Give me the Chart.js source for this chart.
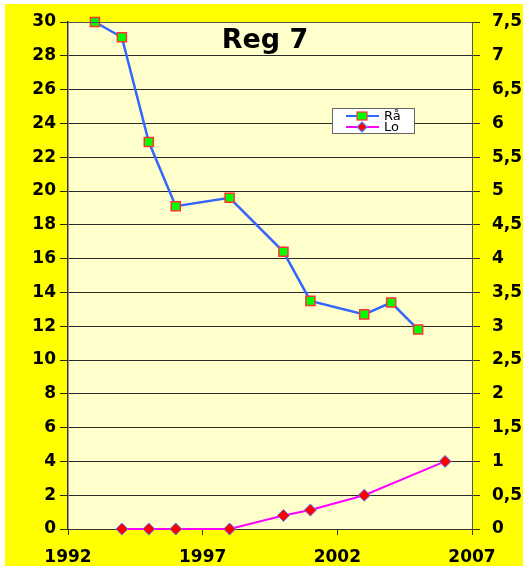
<!DOCTYPE html>
<html>
<head>
<meta charset="utf-8">
<script src="https://cdn.jsdelivr.net/npm/chart.js@4/dist/chart.umd.min.js"></script>
<style>
  html, body { margin: 0; padding: 0; background: #ffffff; }
  #wrap { position: absolute; left: 5px; top: 4px; width: 518px; height: 562px; background: #ffff00; }
  canvas { display: block; }
</style>
</head>
<body>
<div id="wrap"><canvas id="c" width="518" height="562"></canvas></div>
<script>
const chartTitle = 'Reg 7';
const raYears = [1993, 1994, 1995, 1996, 1998, 2000, 2001, 2003, 2004, 2005];
const raValues = [30, 29.1, 22.9, 19.1, 19.6, 16.4, 13.5, 12.7, 13.4, 11.8];
const loYears = [1994, 1995, 1996, 1998, 2000, 2001, 2003, 2006];
const loValues = [0, 0, 0, 0, 0.2, 0.28, 0.5, 1.0];
const seriesNames = ['Rå', 'Lo'];
const xTicks = [1992, 1997, 2002, 2007];

const FONT = '"DejaVu Sans", sans-serif';

const bgPlugin = {
  id: 'plotBg',
  beforeDraw(chart) {
    const { ctx, chartArea: a } = chart;
    ctx.save();
    ctx.fillStyle = '#ffffcc';
    ctx.fillRect(a.left, a.top, a.right - a.left, a.bottom - a.top);
    ctx.restore();
  }
};

const overlayPlugin = {
  id: 'overlay',
  afterDraw(chart) {
    const { ctx, chartArea: a } = chart;
    ctx.save();
    ctx.strokeStyle = '#555555';
    ctx.lineWidth = 1;
    ctx.beginPath();
    ctx.moveTo(a.left, a.top + 0.5); ctx.lineTo(a.right, a.top + 0.5);
    ctx.stroke();
    // title
    ctx.fillStyle = '#000000';
    ctx.font = 'bold 27px ' + FONT;
    ctx.textAlign = 'center';
    ctx.textBaseline = 'middle';
    ctx.fillText(chartTitle, 260, 37);
    // legend
    const bx = 327, by = 104, bw = 82, bh = 25;
    ctx.fillStyle = '#ffffff';
    ctx.fillRect(bx, by, bw, bh);
    ctx.strokeStyle = '#666666';
    ctx.strokeRect(bx + 0.5, by + 0.5, bw, bh);
    const rows = [by + 8, by + 19];
    chart.data.datasets.forEach((ds, i) => {
      const y = rows[i];
      ctx.strokeStyle = ds.borderColor;
      ctx.lineWidth = 2;
      ctx.beginPath();
      ctx.moveTo(bx + 14, y); ctx.lineTo(bx + 47, y);
      ctx.stroke();
      ctx.fillStyle = ds.pointBackgroundColor;
      ctx.strokeStyle = ds.pointBorderColor;
      ctx.lineWidth = 1.2;
      const cx = bx + 30;
      if (i === 0) {
        ctx.fillRect(cx - 5, y - 4, 10, 8);
        ctx.strokeRect(cx - 5, y - 4, 10, 8);
      } else {
        ctx.beginPath();
        ctx.moveTo(cx, y - 5); ctx.lineTo(cx + 5, y); ctx.lineTo(cx, y + 5); ctx.lineTo(cx - 5, y);
        ctx.closePath(); ctx.fill(); ctx.stroke();
      }
      ctx.fillStyle = '#000000';
      ctx.font = '13px ' + FONT;
      ctx.textAlign = 'left';
      ctx.textBaseline = 'middle';
      ctx.fillText(ds.label, bx + 52, y + 0.5);
    });
    ctx.restore();
  }
};

new Chart(document.getElementById('c'), {
  type: 'line',
  data: {
    datasets: [
      {
        label: seriesNames[0],
        data: raYears.map((x, i) => ({ x, y: raValues[i] })),
        yAxisID: 'y',
        borderColor: '#3366ff',
        borderWidth: 2.5,
        pointStyle: 'rect',
        pointRadius: 6.4,
        pointBackgroundColor: '#00ff00',
        pointBorderColor: '#ff3333',
        pointBorderWidth: 1.5,
        tension: 0,
        clip: false
      },
      {
        label: seriesNames[1],
        data: loYears.map((x, i) => ({ x, y: loValues[i] })),
        yAxisID: 'y2',
        borderColor: '#ff00ff',
        borderWidth: 2,
        pointStyle: 'rectRot',
        pointRadius: 6,
        pointBackgroundColor: '#ff0000',
        pointBorderColor: '#4f7fff',
        pointBorderWidth: 1,
        tension: 0,
        clip: false
      }
    ]
  },
  options: {
    responsive: false,
    animation: false,
    layout: { padding: { top: 18, left: 0, right: 0, bottom: 0 } },
    plugins: { legend: { display: false }, tooltip: { enabled: false }, title: { display: false } },
    scales: {
      x: {
        type: 'linear',
        min: 1992, max: 2007,
        afterBuildTicks(scale) { scale.ticks = xTicks.map(v => ({ value: v })); },
        afterFit(scale) { scale.height = 37; scale.paddingLeft = 0; scale.paddingRight = 0; },
        grid: { drawOnChartArea: false, drawTicks: true, tickLength: 6, color: '#333333' },
        border: { color: '#333333', width: 1 },
        ticks: { color: '#000000', font: { family: FONT, size: 17, weight: 'bold' }, padding: 12, maxRotation: 0, callback: v => String(v) }
      },
      y: {
        position: 'left',
        min: 0, max: 30,
        ticks: { stepSize: 2, color: '#000000', font: { family: FONT, size: 17, weight: 'bold' }, padding: 4 },
        afterFit(scale) { scale.width = 63; scale.paddingTop = 0; scale.paddingBottom = 0; },
        grid: { color: '#2a2a2a', lineWidth: 1, tickLength: 8, drawTicks: true },
        border: { color: '#333333', width: 1.5 }
      },
      y2: {
        position: 'right',
        min: 0, max: 7.5,
        ticks: { stepSize: 0.5, color: '#000000', font: { family: FONT, size: 17, weight: 'bold' }, padding: 12,
          callback: v => String(v).replace('.', ',') },
        afterFit(scale) { scale.width = 51; scale.paddingTop = 0; scale.paddingBottom = 0; },
        grid: { drawOnChartArea: false, color: '#333333', tickLength: 8, drawTicks: true },
        border: { color: '#555555', width: 1 }
      }
    }
  },
  plugins: [bgPlugin, overlayPlugin]
});
</script>
</body>
</html>
